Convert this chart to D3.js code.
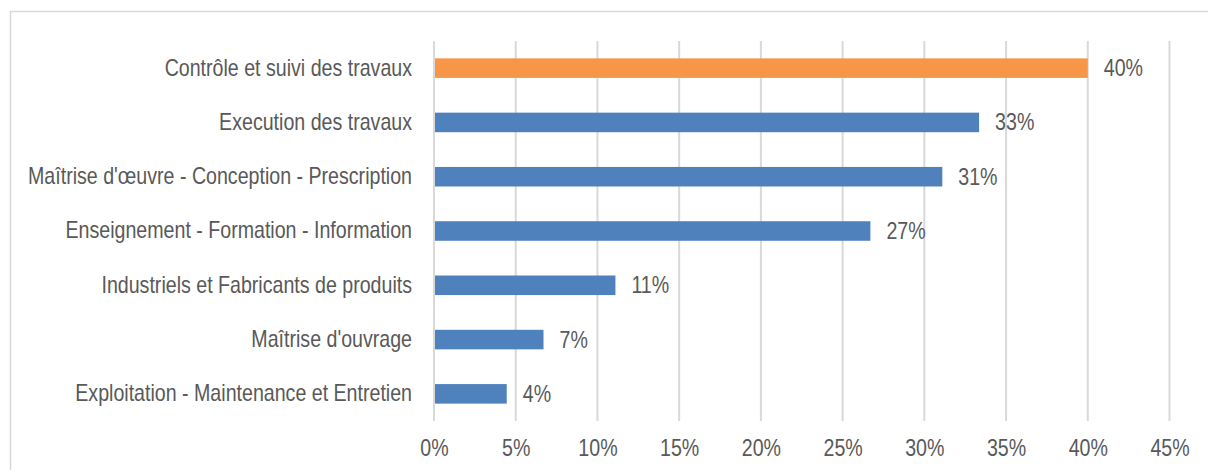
<!DOCTYPE html>
<html>
<head>
<meta charset="utf-8">
<script src="https://cdn.jsdelivr.net/npm/d3@7"></script>
<style>
  html, body { margin: 0; padding: 0; background: #fff; }
  svg { display: block; }
  text { font-family: "Liberation Sans", Arial, sans-serif; fill: #595959; }
</style>
</head>
<body>
<svg id="chart" width="1208" height="470"></svg>
<script>
// Share of respondents by field of activity
const categories = [
  "Contrôle et suivi des travaux",
  "Execution des travaux",
  "Maîtrise d'œuvre - Conception - Prescription",
  "Enseignement - Formation - Information",
  "Industriels et Fabricants de produits",
  "Maîtrise d'ouvrage",
  "Exploitation - Maintenance et Entretien"
];
const shares = [0.400, 0.3335, 0.311, 0.267, 0.111, 0.067, 0.0445];
const highlighted = ["Contrôle et suivi des travaux"];
const tickValues = [0, 0.05, 0.10, 0.15, 0.20, 0.25, 0.30, 0.35, 0.40, 0.45];

const svg = d3.select("#chart");
const W = 1208, H = 470;
const margin = { top: 41, right: 38.5, bottom: 49, left: 434 };
const fontSize = "23px";
const narrow = 0.853; // horizontal squeeze to get a condensed face

// outer frame
svg.append("rect")
  .attr("x", 10.5).attr("y", 11.5)
  .attr("width", W + 20).attr("height", H + 20)
  .attr("fill", "none").attr("stroke", "#d9d9d9").attr("stroke-width", 1.5);

const x = d3.scaleLinear().domain([0, 0.45]).range([margin.left, W - margin.right]);
const y = d3.scaleBand().domain(categories).range([margin.top, H - margin.bottom]).paddingInner(0.64).paddingOuter(0.32);

// vertical gridlines
svg.append("g").selectAll("line")
  .data(tickValues)
  .join("line")
  .attr("x1", d => x(d)).attr("x2", d => x(d))
  .attr("y1", margin.top).attr("y2", H - margin.bottom)
  .attr("stroke", "#d9d9d9").attr("stroke-width", 2);

// x axis labels
const xAxis = d3.axisBottom(x).tickValues(tickValues).tickFormat(d3.format(".0%")).tickSize(0).tickPadding(19);
const gx = svg.append("g").attr("transform", `translate(0,${H - margin.bottom})`).call(xAxis);
gx.select(".domain").remove();
gx.selectAll("text")
  .style("font-size", fontSize)
  .style("font-family", "\"Liberation Sans\", Arial, sans-serif")
  .attr("fill", "#595959")
  .attr("transform", `scale(${narrow},1)`);

// category labels
const yAxis = d3.axisLeft(y).tickSize(0).tickPadding(22);
const gy = svg.append("g").attr("transform", `translate(${margin.left},0)`).call(yAxis);
gy.select(".domain").remove();
gy.selectAll("text")
  .style("font-size", fontSize)
  .style("font-family", "\"Liberation Sans\", Arial, sans-serif")
  .attr("fill", "#595959")
  .attr("x", -22 / narrow)
  .attr("transform", `scale(${narrow},1)`);

const rows = categories.map((c, i) => ({ c, v: shares[i] }));

// bars
svg.append("g").selectAll("rect")
  .data(rows)
  .join("rect")
  .attr("x", x(0) + 1)
  .attr("y", d => y(d.c))
  .attr("width", d => x(d.v) - x(0) - 1)
  .attr("height", y.bandwidth())
  .attr("fill", d => highlighted.includes(d.c) ? "#f79646" : "#4f81bd");

// value labels
svg.append("g").selectAll("text")
  .data(rows)
  .join("text")
  .attr("transform", d => `translate(${x(d.v) + 16},${y(d.c) + y.bandwidth() / 2}) scale(${narrow},1)`)
  .attr("dy", "0.35em")
  .style("font-size", fontSize)
  .text(d => d3.format(".0%")(d.v));
</script>
</body>
</html>
